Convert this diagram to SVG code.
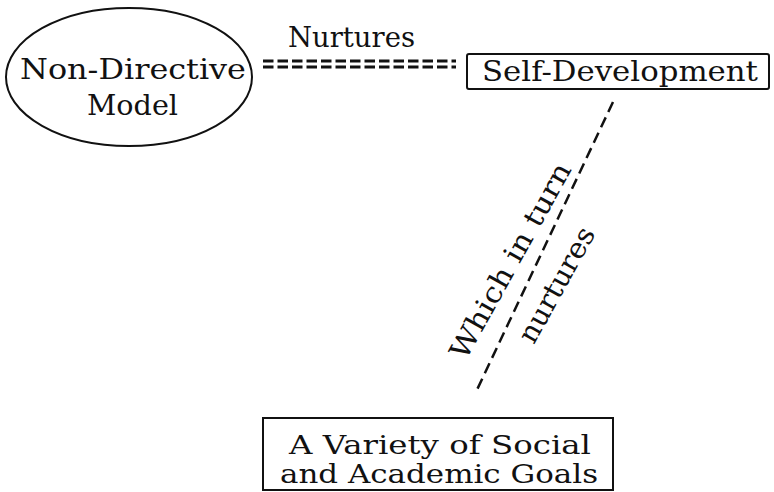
<svg xmlns="http://www.w3.org/2000/svg" width="774" height="492" viewBox="0 0 774 492">
<style>
text{font-family:"DejaVu Serif","Liberation Serif",serif;font-size:28px;fill:#111}
.small{font-size:26px}
.box{fill:none;stroke:#111;stroke-width:2}
.dash{fill:none;stroke:#111;stroke-width:2.5;stroke-dasharray:11 6}
.dd{fill:none;stroke:#111;stroke-width:3;stroke-dasharray:10.5 4}
</style>
<rect width="774" height="492" fill="#fff"/>
<g id="connectors">
<line class="dd" x1="263" y1="61" x2="456" y2="61"/>
<line class="dd" x1="263" y1="67" x2="456" y2="67"/>
<text x="288" y="47" textLength="127" lengthAdjust="spacingAndGlyphs">Nurtures</text>
<line class="dash" x1="613" y1="102" x2="475" y2="394"/>
<text transform="translate(511,261) rotate(-61)" text-anchor="middle" textLength="220" lengthAdjust="spacingAndGlyphs" y="9">Which in turn</text>
<text transform="translate(557,285) rotate(-61)" text-anchor="middle" textLength="128" lengthAdjust="spacingAndGlyphs" y="9">nurtures</text>
</g>
<g id="non-directive">
<ellipse class="box" cx="129" cy="77" rx="123" ry="69"/>
<text x="20" y="79" textLength="226" lengthAdjust="spacingAndGlyphs">Non-Directive</text>
<text x="87" y="115" textLength="91" lengthAdjust="spacingAndGlyphs">Model</text>
</g>
<g id="self-development">
<rect class="box" x="467" y="54" width="302" height="35" rx="2"/>
<text x="482" y="81" textLength="276" lengthAdjust="spacingAndGlyphs">Self-Development</text>
</g>
<g id="goals">
<rect class="box" x="263" y="418" width="350" height="72"/>
<text class="small" x="289" y="454" textLength="302" lengthAdjust="spacingAndGlyphs">A Variety of Social</text>
<text class="small" x="280" y="483" textLength="318" lengthAdjust="spacingAndGlyphs">and Academic Goals</text>
</g>
</svg>
